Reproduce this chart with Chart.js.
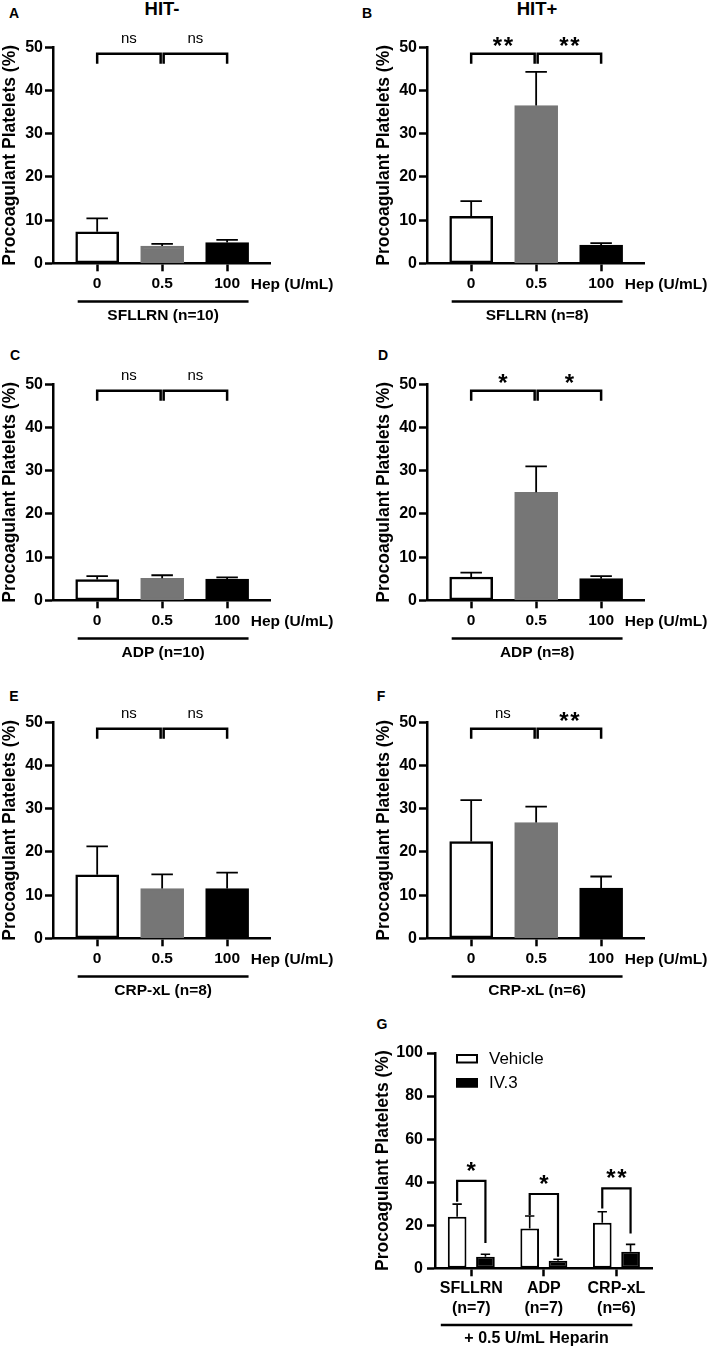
<!DOCTYPE html>
<html>
<head>
<meta charset="utf-8">
<script src="https://cdn.jsdelivr.net/npm/chart.js@4/dist/chart.umd.min.js"></script>
<style>
  body { margin: 0; background: #fff; width: 709px; height: 1348px; position: relative; overflow: hidden;
         font-family: 'Liberation Sans', Arial, sans-serif; }
  canvas { position: absolute; }
  .txt { position: absolute; transform: translate(-50%, -50%); font-weight: bold; white-space: nowrap; color: #000; line-height: 1; }
  .letter { font-size: 14px; }
  .title { font-size: 18.5px; }
</style>
</head>
<body>
<div class="txt letter" style="left:14px;top:13px">A</div>
<div class="txt letter" style="left:367px;top:13px">B</div>
<div class="txt letter" style="left:15px;top:355px">C</div>
<div class="txt letter" style="left:383px;top:355px">D</div>
<div class="txt letter" style="left:14px;top:696px">E</div>
<div class="txt letter" style="left:381px;top:696px">F</div>
<div class="txt letter" style="left:382px;top:1024px">G</div>
<div class="txt title" style="left:162px;top:9px">HIT-</div>
<div class="txt title" style="left:537px;top:9px">HIT+</div>

<canvas id="pA" width="355" height="330" style="left:0;top:0"></canvas>
<canvas id="pB" width="335" height="330" style="left:374px;top:0"></canvas>
<canvas id="pC" width="355" height="330" style="left:0;top:337px"></canvas>
<canvas id="pD" width="335" height="330" style="left:374px;top:337px"></canvas>
<canvas id="pE" width="355" height="330" style="left:0;top:675px"></canvas>
<canvas id="pF" width="335" height="330" style="left:374px;top:675px"></canvas>
<canvas id="pG" width="349" height="348" style="left:360px;top:1000px"></canvas>

<script>
// heparin dose panels (A-F)
const hepDoses = ['0', '0.5', '100'];
const hepUnit = 'Hep (U/mL)';
const yTitle = 'Procoagulant Platelets (%)';

const meanA = [7.3, 4.0, 4.8];    const semA = [3.1, 0.5, 0.6];
const meanB = [10.9, 36.5, 4.2];  const semB = [3.5, 7.8, 0.45];
const meanC = [4.8, 5.1, 4.9];    const semC = [0.8, 0.7, 0.4];
const meanD = [5.4, 25.0, 5.0];   const semD = [1.0, 6.0, 0.6];
const meanE = [14.7, 11.5, 11.5]; const semE = [6.6, 3.3, 3.7];
const meanF = [22.4, 26.8, 11.6]; const semF = [9.6, 3.7, 2.7];

const sigA = ['ns', 'ns'];
const sigB = ['**', '**'];
const sigC = ['ns', 'ns'];
const sigD = ['*', '*'];
const sigE = ['ns', 'ns'];
const sigF = ['ns', '**'];

const groupA = 'SFLLRN (n=10)';
const groupB = 'SFLLRN (n=8)';
const groupC = 'ADP (n=10)';
const groupD = 'ADP (n=8)';
const groupE = 'CRP-xL (n=8)';
const groupF = 'CRP-xL (n=6)';

// IV.3 panel (G)
const gCategories = [['SFLLRN', '(n=7)'], ['ADP', '(n=7)'], ['CRP-xL', '(n=6)']];
const gSeries = ['Vehicle', 'IV.3'];
const gVehicle = [23.9, 18.5, 21.2]; const gVehicleSem = [5.9, 5.8, 5.1];
const gIV3 = [5.4, 3.5, 7.7];        const gIV3Sem = [1.1, 0.7, 3.4];
const gSig = ['*', '*', '**'];
const gBracketTop = [40.6, 34.5, 37.1];
const gLegLeft = [30.9, 24.7, 27.8];
const gLegRight = [11.7, 5.4, 16.2];
const gGroup = '+ 0.5 U/mL Heparin';

Chart.defaults.font.family = "'Liberation Sans', Arial, sans-serif";
Chart.defaults.color = '#000';

const FONT = 'Liberation Sans';

// draws error bars, significance brackets, group underline, extra labels, legend
const extras = {
  id: 'extras',
  afterDatasetsDraw(chart, args, o) {
    const ctx = chart.ctx, xs = chart.scales.x, ys = chart.scales.y, area = chart.chartArea;
    ctx.save();
    ctx.strokeStyle = '#000';
    ctx.fillStyle = '#000';

    // error bars (upper half only)
    chart.data.datasets.forEach((ds, di) => {
      const meta = chart.getDatasetMeta(di);
      meta.data.forEach((bar, i) => {
        const raw = ds.data[i];
        const v = typeof raw === 'object' ? raw.y : raw;
        const top = ys.getPixelForValue(v + ds.sem[i]);
        const half = bar.width / 4;
        ctx.lineWidth = o.errWidth;
        ctx.beginPath();
        ctx.moveTo(bar.x, bar.y);
        ctx.lineTo(bar.x, top);
        ctx.moveTo(bar.x - half, top);
        ctx.lineTo(bar.x + half, top);
        ctx.stroke();
      });
    });

    // brackets
    const drawBracket = (xa, xb, top, legA, legB, text) => {
      const yt = ys.getPixelForValue(top);
      ctx.lineWidth = o.bracketWidth;
      ctx.lineJoin = 'miter';
      ctx.beginPath();
      ctx.moveTo(xa, ys.getPixelForValue(legA));
      ctx.lineTo(xa, yt);
      ctx.lineTo(xb, yt);
      ctx.lineTo(xb, ys.getPixelForValue(legB));
      ctx.stroke();
      ctx.textAlign = 'center';
      ctx.textBaseline = 'middle';
      if (text === 'ns') {
        ctx.font = `15px '${FONT}'`;
        ctx.fillText(text, (xa + xb) / 2, yt - 15);
      } else {
        ctx.font = `bold 24px '${FONT}'`;
        const n = text.length;
        for (let k = 0; k < n; k++) {
          ctx.fillText('*', (xa + xb) / 2 + (k - (n - 1) / 2) * 11, yt - o.starOffset);
        }
      }
    };
    if (o.sig) {
      o.sig.forEach((s, i) => {
        const xa = xs.getPixelForValue(i) + (i === 1 ? 1.5 : 0);
        const xb = xs.getPixelForValue(i + 1) - (i === 0 ? 1.5 : 0);
        drawBracket(xa, xb, o.bracketTop, o.bracketLeg, o.bracketLeg, s);
      });
    }
    if (o.pairSig) {
      const m0 = chart.getDatasetMeta(0), m1 = chart.getDatasetMeta(1);
      o.pairSig.forEach((s, i) => {
        drawBracket(m0.data[i].x, m1.data[i].x, o.pairTop[i], o.pairLegL[i], o.pairLegR[i], s);
      });
    }

    // unit label after the last tick
    if (o.unit) {
      ctx.font = `bold 15.5px '${FONT}'`;
      ctx.textAlign = 'center';
      ctx.textBaseline = 'middle';
      ctx.fillText(o.unit, xs.getPixelForValue(3), area.bottom + 21);
    }

    // group underline and label
    if (o.group) {
      ctx.lineWidth = 2.5;
      ctx.beginPath();
      const uy = area.bottom + o.lineOffset;
      ctx.moveTo(xs.getPixelForValue(o.lineFrom), uy);
      ctx.lineTo(xs.getPixelForValue(o.lineTo), uy);
      ctx.stroke();
      ctx.font = `bold ${o.groupSize}px '${FONT}'`;
      ctx.textAlign = 'center';
      ctx.textBaseline = 'middle';
      const cx = (xs.getPixelForValue(o.lineFrom) + xs.getPixelForValue(o.lineTo)) / 2;
      ctx.fillText(o.group, cx, area.bottom + o.labelOffset);
    }

    // legend (panel G)
    if (o.legend) {
      chart.data.datasets.forEach((ds, di) => {
        const bx = area.left + 21, by = area.top + 1 + di * 24;
        ctx.fillStyle = ds.backgroundColor;
        ctx.fillRect(bx, by, 22, 9.5);
        ctx.lineWidth = 2;
        ctx.strokeStyle = '#000';
        ctx.strokeRect(bx + 1, by + 1, 20, 7.5);
        ctx.fillStyle = '#000';
        ctx.font = `17px '${FONT}'`;
        ctx.textAlign = 'left';
        ctx.textBaseline = 'middle';
        ctx.fillText(ds.label, bx + 33, by + 5);
      });
    }
    ctx.restore();
  }
};
Chart.register(extras);

const axisGrid = { drawOnChartArea: false, offset: false, tickLength: 8, tickWidth: 2.5, tickColor: '#000' };
const axisBorder = { color: '#000', width: 2.5 };

function hepPanel(id, mean, sem, sig, group) {
  const cv = document.getElementById(id);
  const W = cv.width, H = cv.height;
  new Chart(cv, {
    type: 'bar',
    data: {
      datasets: [{
        data: mean.map((v, i) => ({ x: i, y: v })),
        sem: sem,
        backgroundColor: ['#ffffff', '#767676', '#000000'],
        borderColor: ['#000000', '#767676', '#000000'],
        borderWidth: 2.5,
        borderSkipped: false,
        barThickness: 43
      }]
    },
    options: {
      responsive: false,
      animation: false,
      layout: { padding: { left: 0, top: 47.3, right: W - 270, bottom: 0 } },
      plugins: {
        legend: { display: false },
        tooltip: { enabled: false },
        extras: {
          errWidth: 1.8, bracketWidth: 2.5, starOffset: 6,
          sig: sig, bracketTop: 48.5, bracketLeg: 46.2,
          unit: hepUnit,
          group: group, groupSize: 15.5, lineFrom: -0.3, lineTo: 2.33, lineOffset: 38.3, labelOffset: 52.3
        }
      },
      scales: {
        x: {
          type: 'linear', min: -0.68, max: 2.66, offset: false,
          afterBuildTicks: s => { s.ticks = hepDoses.map((_, i) => ({ value: i })); },
          afterFit: s => { s.height = H - 263.3; },
          ticks: {
            callback: v => hepDoses[v],
            font: { size: 15.5, weight: 'bold' }, color: '#000', padding: 3,
            maxRotation: 0, autoSkip: false
          },
          grid: axisGrid,
          border: axisBorder
        },
        y: {
          min: 0, max: 50,
          afterFit: s => { s.width = 53; },
          ticks: { stepSize: 10, font: { size: 16, weight: 'bold' }, color: '#000', padding: 2 },
          title: { display: true, text: yTitle, font: { size: 17.5, weight: 'bold' }, color: '#000', padding: { top: 0, bottom: 0 } },
          grid: axisGrid,
          border: axisBorder
        }
      }
    }
  });
}

hepPanel('pA', meanA, semA, sigA, groupA);
hepPanel('pB', meanB, semB, sigB, groupB);
hepPanel('pC', meanC, semC, sigC, groupC);
hepPanel('pD', meanD, semD, sigD, groupD);
hepPanel('pE', meanE, semE, sigE, groupE);
hepPanel('pF', meanF, semF, sigF, groupF);

// panel G
(function () {
  const cv = document.getElementById('pG');
  const W = cv.width, H = cv.height;
  new Chart(cv, {
    type: 'bar',
    data: {
      labels: gCategories,
      datasets: [
        { label: gSeries[0], data: gVehicle, sem: gVehicleSem, backgroundColor: '#ffffff', borderColor: '#000000',
          borderWidth: 2, borderSkipped: false, categoryPercentage: 0.78, barPercentage: 0.66 },
        { label: gSeries[1], data: gIV3, sem: gIV3Sem, backgroundColor: '#000000', borderColor: '#000000',
          borderWidth: 2, borderSkipped: false, categoryPercentage: 0.78, barPercentage: 0.66 }
      ]
    },
    options: {
      responsive: false,
      animation: false,
      layout: { padding: { left: 13, top: 53, right: W - 292.7, bottom: 0 } },
      plugins: {
        legend: { display: false },
        tooltip: { enabled: false },
        extras: {
          errWidth: 1.6, bracketWidth: 2.2, starOffset: 9,
          pairSig: gSig, pairTop: gBracketTop, pairLegL: gLegLeft, pairLegR: gLegRight,
          group: gGroup, groupSize: 16, lineFrom: -0.42, lineTo: 2.22, lineOffset: 56.7, labelOffset: 70.7,
          legend: true
        }
      },
      scales: {
        x: {
          offset: true,
          afterFit: s => { s.height = H - 268.3; },
          ticks: { font: { size: 16, weight: 'bold' }, color: '#000', padding: 3, maxRotation: 0, autoSkip: false },
          grid: axisGrid,
          border: axisBorder
        },
        y: {
          min: 0, max: 100,
          afterFit: s => { s.width = 62; },
          ticks: { stepSize: 20, font: { size: 16, weight: 'bold' }, color: '#000', padding: 4 },
          title: { display: true, text: yTitle, font: { size: 17.5, weight: 'bold' }, color: '#000', padding: { top: 0, bottom: 0 } },
          grid: axisGrid,
          border: axisBorder
        }
      }
    }
  });
})();
</script>
</body>
</html>
